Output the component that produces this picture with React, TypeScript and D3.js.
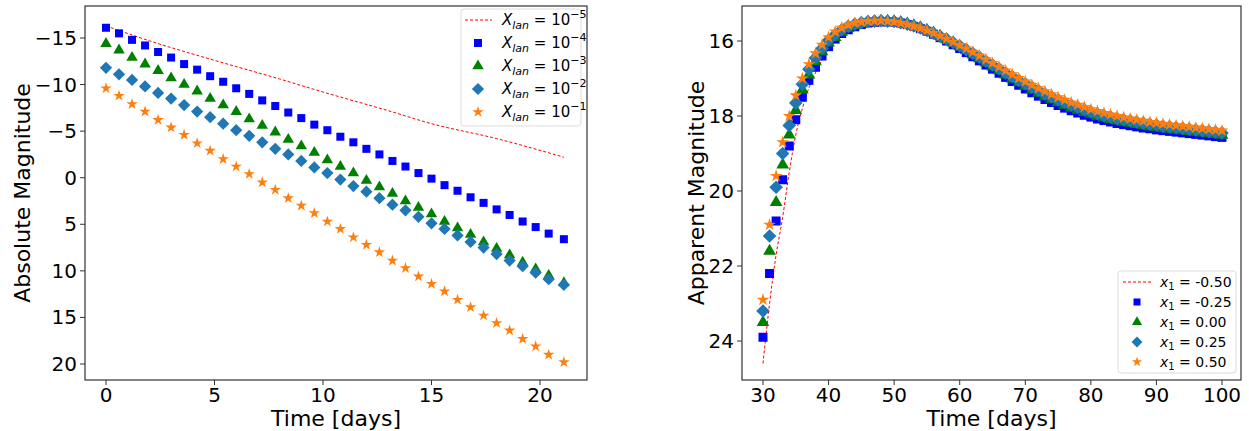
import React from 'react';
import * as d3 from 'd3';

// ---- left panel data (absolute magnitude vs time) ----
const leftTimes = [0, 0.6, 1.2, 1.8, 2.4, 3.0, 3.6, 4.2, 4.8, 5.4, 6.0, 6.6, 7.2, 7.8, 8.4, 9.0, 9.6, 10.2, 10.8, 11.4, 12.0, 12.6, 13.2, 13.8, 14.4, 15.0, 15.6, 16.2, 16.8, 17.4, 18.0, 18.6, 19.2, 19.8, 20.4, 21.1];
const redLineT = [0, 2, 5, 8, 10, 13, 15, 18, 21.1];
const redLineM = [-16.3, -14.7, -12.6, -10.6, -9.2, -7.2, -5.8, -4.2, -2.2];
const lanE4 = [-16.1, -15.5, -14.8, -14.2, -13.5, -12.9, -12.2, -11.6, -10.9, -10.3, -9.6, -9.0, -8.3, -7.7, -7.0, -6.4, -5.7, -5.1, -4.4, -3.8, -3.1, -2.5, -1.8, -1.2, -0.5, 0.1, 0.8, 1.4, 2.1, 2.7, 3.4, 4.0, 4.7, 5.3, 6.0, 6.6];
const lanE3 = [-14.4, -13.7, -12.9, -12.2, -11.5, -10.7, -10.0, -9.3, -8.5, -7.8, -7.1, -6.3, -5.6, -4.9, -4.1, -3.4, -2.7, -1.9, -1.2, -0.5, 0.3, 1.0, 1.7, 2.5, 3.2, 3.9, 4.7, 5.4, 6.1, 6.9, 7.6, 8.3, 9.1, 9.8, 10.5, 11.3];
const lanE2 = [-11.8, -11.1, -10.5, -9.8, -9.1, -8.5, -7.8, -7.1, -6.5, -5.8, -5.1, -4.5, -3.8, -3.1, -2.5, -1.8, -1.1, -0.5, 0.2, 0.9, 1.5, 2.2, 2.9, 3.5, 4.2, 4.9, 5.5, 6.2, 6.9, 7.5, 8.2, 8.9, 9.5, 10.2, 10.9, 11.5];
const lanE1 = [-9.6, -8.8, -7.9, -7.1, -6.2, -5.4, -4.6, -3.7, -2.9, -2.0, -1.2, -0.4, 0.5, 1.3, 2.2, 3.0, 3.8, 4.7, 5.5, 6.4, 7.2, 8.0, 8.9, 9.7, 10.6, 11.4, 12.2, 13.1, 13.9, 14.8, 15.6, 16.4, 17.3, 18.1, 19.0, 19.8];
const leftXTicks = [0, 5, 10, 15, 20];
const leftYTicks = [-15, -10, -5, 0, 5, 10, 15, 20];

// ---- right panel data (apparent magnitude vs time), one point per day 30..100 ----
const rightTimes = d3.range(30, 101, 1);
const tailM025 = [15.95, 15.8, 15.7, 15.62, 15.56, 15.52, 15.5, 15.49, 15.49, 15.5, 15.52, 15.56, 15.61, 15.67, 15.74, 15.82, 15.91, 16.0, 16.1, 16.2, 16.31, 16.42, 16.53, 16.64, 16.75, 16.86, 16.97, 17.08, 17.18, 17.28, 17.38, 17.47, 17.56, 17.64, 17.72, 17.79, 17.86, 17.92, 17.98, 18.03, 18.08, 18.12, 18.16, 18.2, 18.23, 18.26, 18.29, 18.32, 18.34, 18.37, 18.39, 18.41, 18.43, 18.45, 18.47, 18.49, 18.51, 18.53, 18.55, 18.57];
const x1m050 = [24.6, 23.0, 21.7, 20.7, 19.5, 18.5, 17.8, 17.25, 16.85, 16.5, 16.22, ...tailM025];
const x1m025 = [23.9, 22.2, 20.8, 19.7, 18.8, 18.1, 17.5, 17.05, 16.7, 16.4, 16.15, ...tailM025];
const x1p000 = [23.5, 21.6, 20.3, 19.3, 18.5, 17.85, 17.3, 16.9, 16.55, 16.28, 16.05,
  15.9, 15.76, 15.66, 15.59, 15.54, 15.5, 15.48, 15.47, 15.47, 15.48, 15.5, 15.54, 15.59, 15.64, 15.71, 15.78, 15.87, 15.96, 16.05, 16.15, 16.25, 16.36, 16.47, 16.58, 16.69, 16.79, 16.9, 17.01, 17.11, 17.21, 17.3, 17.39, 17.48, 17.56, 17.64, 17.71, 17.78, 17.84, 17.9, 17.95, 18.0, 18.05, 18.09, 18.13, 18.16, 18.19, 18.22, 18.25, 18.28, 18.3, 18.33, 18.35, 18.37, 18.39, 18.41, 18.43, 18.45, 18.47, 18.49, 18.51];
const x1p025 = [23.2, 21.2, 19.9, 19.0, 18.25, 17.65, 17.15, 16.75, 16.45, 16.2, 15.98,
  15.83, 15.7, 15.61, 15.55, 15.51, 15.48, 15.47, 15.46, 15.47, 15.48, 15.51, 15.55, 15.6, 15.65, 15.72, 15.79, 15.87, 15.95, 16.04, 16.13, 16.23, 16.33, 16.43, 16.54, 16.64, 16.74, 16.85, 16.95, 17.05, 17.14, 17.23, 17.32, 17.41, 17.49, 17.57, 17.64, 17.71, 17.77, 17.83, 17.89, 17.94, 17.99, 18.03, 18.07, 18.1, 18.13, 18.16, 18.19, 18.22, 18.24, 18.27, 18.29, 18.31, 18.33, 18.35, 18.37, 18.39, 18.41, 18.43, 18.45];
const x1p050 = [22.9, 20.9, 19.6, 18.7, 18.0, 17.45, 17.0, 16.62, 16.33, 16.1, 15.9,
  15.75, 15.65, 15.57, 15.52, 15.49, 15.47, 15.46, 15.46, 15.47, 15.49, 15.52, 15.56, 15.61, 15.66, 15.72, 15.79, 15.86, 15.94, 16.02, 16.11, 16.2, 16.29, 16.39, 16.49, 16.59, 16.69, 16.79, 16.89, 16.99, 17.08, 17.17, 17.26, 17.34, 17.42, 17.5, 17.57, 17.64, 17.7, 17.76, 17.82, 17.87, 17.92, 17.96, 18.0, 18.04, 18.07, 18.1, 18.13, 18.16, 18.18, 18.21, 18.23, 18.25, 18.27, 18.29, 18.31, 18.33, 18.35, 18.37, 18.39];
const rightXTicks = [30, 40, 50, 60, 70, 80, 90, 100];
const rightYTicks = [16, 18, 20, 22, 24];

const FONT = "DejaVu Sans";
const fmt = (v: number) => (v < 0 ? "\u2212" + Math.abs(v) : String(v));

type Kind = 'square' | 'triangle' | 'diamond' | 'star';
const Marker = ({ kind, x, y, color, s }: { kind: Kind; x: number; y: number; color: string; s: number }) => {
  if (kind === 'square') return <rect x={x - s / 2} y={y - s / 2} width={s} height={s} fill={color} />;
  if (kind === 'diamond') {
    const r = s * 0.68;
    return <path d={`M${x},${y - r}L${x + r},${y}L${x},${y + r}L${x - r},${y}Z`} fill={color} />;
  }
  const sym = kind === 'triangle' ? d3.symbolTriangle : d3.symbolStar;
  const area = kind === 'triangle' ? s * s * 0.7 : s * s * 0.5;
  return <path d={d3.symbol(sym, area)()!} transform={`translate(${x},${y})`} fill={color} />;
};

const Frame = ({ x0, y0, x1, y1 }: any) => (
  <rect x={x0} y={y0} width={x1 - x0} height={y1 - y0} fill="none" stroke="#333" strokeWidth={1.2} />
);

export default function App() {
  // left panel
  const L = { x0: 85, x1: 587, y0: 6, y1: 380 };
  const lx = d3.scaleLinear().domain([0, 20]).range([106, 540]);
  const ly = d3.scaleLinear().domain([-15, 20]).range([38, 364]);
  // right panel
  const R = { x0: 742, x1: 1241, y0: 6, y1: 380 };
  const rx = d3.scaleLinear().domain([30, 100]).range([763, 1222]);
  const ry = d3.scaleLinear().domain([16, 24]).range([41, 341]);

  const redLine = d3.line<number>().x((_, i) => lx(redLineT[i])).y(d => ly(d)).curve(d3.curveMonotoneX)(redLineM)!;
  const redLineR = d3.line<number>().x((_, i) => rx(rightTimes[i])).y(d => ry(d)).curve(d3.curveMonotoneX)(x1m050)!;

  const leftSeries: [number[], Kind, string, number][] = [
    [lanE4, 'square', '#0000ff', 8],
    [lanE3, 'triangle', '#008000', 9],
    [lanE2, 'diamond', '#1f77b4', 9],
    [lanE1, 'star', '#ff7f0e', 9],
  ];
  const rightSeries: [number[], Kind, string, number][] = [
    [x1m025, 'square', '#0000ff', 9],
    [x1p000, 'triangle', '#008000', 10],
    [x1p025, 'diamond', '#1f77b4', 10],
    [x1p050, 'star', '#ff7f0e', 10],
  ];
  const lanExp = ["\u22125", "\u22124", "\u22123", "\u22122", "\u22121"];
  const x1Labels = ["-0.50", "-0.25", "0.00", "0.25", "0.50"];
  const legendKinds: (Kind | 'line')[] = ['line', 'square', 'triangle', 'diamond', 'star'];
  const legendColors = ['red', '#0000ff', '#008000', '#1f77b4', '#ff7f0e'];

  return (
    <svg width={1249} height={431} style={{ position: 'absolute', left: 0, top: 0, fontFamily: FONT }}>
      <rect width={1249} height={431} fill="white" />
      {/* LEFT */}
      <path d={redLine} fill="none" stroke="red" strokeWidth={1} strokeDasharray="3,2" />
      {leftSeries.map(([vals, k, c, s], si) => vals.map((v, i) => (
        <Marker key={`l${si}-${i}`} kind={k} x={lx(leftTimes[i])} y={ly(v)} color={c} s={s} />
      )))}
      <Frame {...L} />
      {leftXTicks.map(t => (
        <g key={`lx${t}`}>
          <line x1={lx(t)} x2={lx(t)} y1={L.y1} y2={L.y1 + 5} stroke="#333" />
          <text x={lx(t)} y={L.y1 + 22} fontSize={20} textAnchor="middle">{fmt(t)}</text>
        </g>
      ))}
      {leftYTicks.map(t => (
        <g key={`ly${t}`}>
          <line x1={L.x0 - 5} x2={L.x0} y1={ly(t)} y2={ly(t)} stroke="#333" />
          <text x={L.x0 - 8} y={ly(t) + 7} fontSize={20} textAnchor="end">{fmt(t)}</text>
        </g>
      ))}
      <text x={(L.x0 + L.x1) / 2} y={426} fontSize={22} textAnchor="middle">Time [days]</text>
      <text transform={`translate(30,${(L.y0 + L.y1) / 2}) rotate(-90)`} fontSize={22} textAnchor="middle">Absolute Magnitude</text>
      <rect x={461} y={9} width={120} height={117} rx={3} fill="white" fillOpacity={0.8} stroke="#ddd" />
      {legendKinds.map((k, i) => {
        const yy = 20 + i * 23;
        return (
          <g key={`lg${i}`}>
            {k === 'line'
              ? <line x1={465} x2={492} y1={yy} y2={yy} stroke="red" strokeDasharray="3,2" />
              : <Marker kind={k} x={478} y={yy} color={legendColors[i]} s={k === 'square' ? 8 : 9} />}
            <text x={502} y={yy + 5} fontSize={15}>
              <tspan fontStyle="italic">X</tspan>
              <tspan fontStyle="italic" fontSize={11} dy={4}>lan</tspan>
              <tspan dy={-4}> = 10</tspan>
              <tspan fontSize={11} dy={-7}>{lanExp[i]}</tspan>
            </text>
          </g>
        );
      })}

      {/* RIGHT */}
      <path d={redLineR} fill="none" stroke="red" strokeWidth={1} strokeDasharray="3,2" />
      {rightSeries.map(([vals, k, c, s], si) => vals.map((v, i) => (
        <Marker key={`r${si}-${i}`} kind={k} x={rx(rightTimes[i])} y={ry(v)} color={c} s={s} />
      )))}
      <Frame {...R} />
      {rightXTicks.map(t => (
        <g key={`rx${t}`}>
          <line x1={rx(t)} x2={rx(t)} y1={R.y1} y2={R.y1 + 5} stroke="#333" />
          <text x={rx(t)} y={R.y1 + 22} fontSize={20} textAnchor="middle">{t}</text>
        </g>
      ))}
      {rightYTicks.map(t => (
        <g key={`ry${t}`}>
          <line x1={R.x0 - 5} x2={R.x0} y1={ry(t)} y2={ry(t)} stroke="#333" />
          <text x={R.x0 - 8} y={ry(t) + 7} fontSize={20} textAnchor="end">{t}</text>
        </g>
      ))}
      <text x={(R.x0 + R.x1) / 2} y={426} fontSize={22} textAnchor="middle">Time [days]</text>
      <text transform={`translate(704,${(R.y0 + R.y1) / 2}) rotate(-90)`} fontSize={22} textAnchor="middle">Apparent Magnitude</text>
      <rect x={1118} y={271} width={118} height={102} rx={3} fill="white" fillOpacity={0.8} stroke="#ddd" />
      {legendKinds.map((k, i) => {
        const yy = 282 + i * 20;
        return (
          <g key={`rg${i}`}>
            {k === 'line'
              ? <line x1={1123} x2={1151} y1={yy} y2={yy} stroke="red" strokeDasharray="3,2" />
              : <Marker kind={k} x={1137} y={yy} color={legendColors[i]} s={k === 'square' ? 7 : 8} />}
            <text x={1160} y={yy + 5} fontSize={14}>
              <tspan fontStyle="italic">x</tspan>
              <tspan fontSize={10} dy={3}>1</tspan>
              <tspan dy={-3}> = {x1Labels[i]}</tspan>
            </text>
          </g>
        );
      })}
    </svg>
  );
}
